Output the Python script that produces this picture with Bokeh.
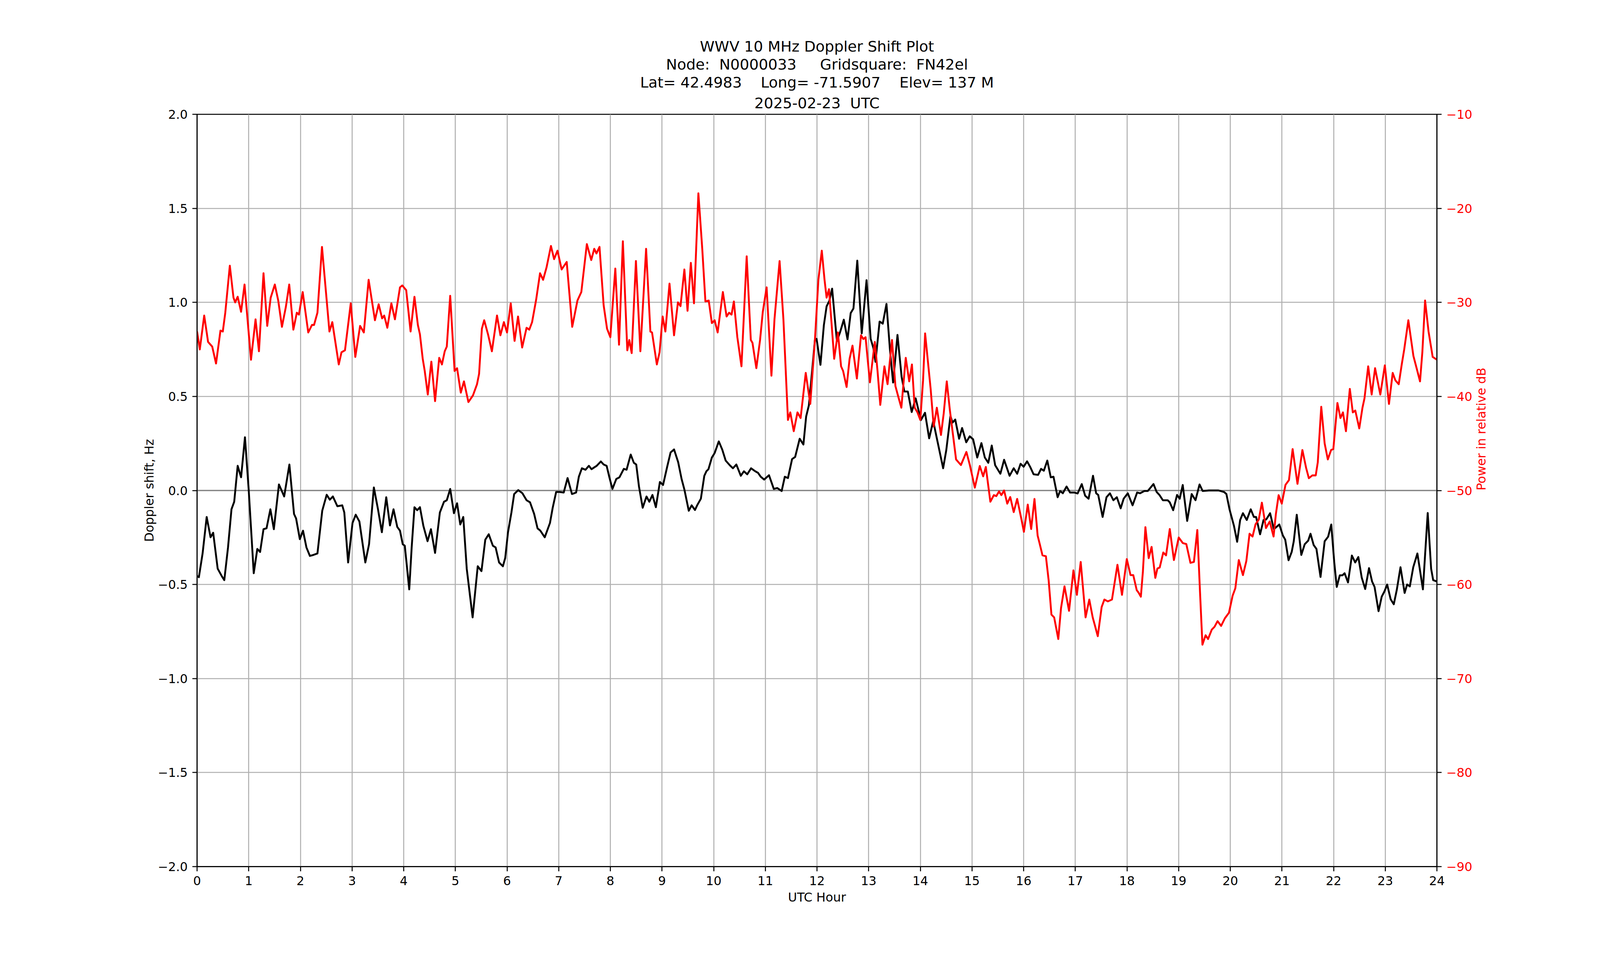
import math
from bokeh.plotting import figure
from bokeh.models import (Range1d, LinearAxis, FixedTicker, CustomJSTickFormatter,
                          Span, Title)
from bokeh.embed import file_html
from bokeh.resources import INLINE

# ---------------- data ----------------
doppler_hours = [
    0.0, 0.035, 0.107, 0.186, 0.261, 0.312, 0.399, 0.479, 0.527, 0.599, 0.666, 0.719, 0.786, 0.852, 0.927,
    0.999, 1.097, 1.166, 1.220, 1.286, 1.345, 1.419, 1.486, 1.585, 1.686, 1.787, 1.877, 1.917, 1.989, 2.051,
    2.117, 2.184, 2.250, 2.330, 2.423, 2.509, 2.570, 2.629, 2.716, 2.810, 2.850, 2.924, 3.009, 3.071, 3.142,
    3.257, 3.329, 3.422, 3.502, 3.577, 3.662, 3.734, 3.803, 3.875, 3.928, 3.981, 4.021, 4.048, 4.107, 4.154,
    4.208, 4.261, 4.314, 4.381, 4.461, 4.527, 4.607, 4.700, 4.780, 4.834, 4.900, 4.972, 5.033, 5.095, 5.153,
    5.220, 5.334, 5.433, 5.505, 5.579, 5.646, 5.726, 5.779, 5.846, 5.920, 5.965, 6.019, 6.085, 6.138, 6.218,
    6.298, 6.378, 6.445, 6.525, 6.591, 6.645, 6.730, 6.831, 6.884, 6.951, 7.017, 7.097, 7.172, 7.257, 7.337,
    7.390, 7.449, 7.518, 7.585, 7.635, 7.736, 7.816, 7.870, 7.928, 7.981, 8.040, 8.115, 8.176, 8.261, 8.314,
    8.394, 8.455, 8.501, 8.554, 8.626, 8.700, 8.754, 8.815, 8.881, 8.959, 9.020, 9.100, 9.166, 9.233, 9.313,
    9.379, 9.433, 9.518, 9.574, 9.638, 9.686, 9.752, 9.819, 9.859, 9.899, 9.965, 10.019, 10.099, 10.165, 10.232,
    10.312, 10.373, 10.439, 10.525, 10.586, 10.650, 10.724, 10.804, 10.858, 10.911, 10.977, 11.071, 11.164, 11.230, 11.316,
    11.377, 11.438, 11.518, 11.577, 11.665, 11.737, 11.790, 11.843, 11.900, 11.960, 11.992, 12.067, 12.133, 12.186, 12.239,
    12.293, 12.346, 12.386, 12.452, 12.519, 12.591, 12.652, 12.706, 12.780, 12.866, 12.959, 13.039, 13.092, 13.132, 13.212,
    13.273, 13.345, 13.412, 13.473, 13.558, 13.638, 13.692, 13.758, 13.833, 13.910, 14.011, 14.091, 14.171, 14.250, 14.330,
    14.442, 14.503, 14.583, 14.623, 14.676, 14.751, 14.809, 14.889, 14.956, 15.022, 15.102, 15.183, 15.249, 15.316, 15.383,
    15.449, 15.550, 15.622, 15.728, 15.808, 15.875, 15.941, 16.000, 16.067, 16.125, 16.192, 16.280, 16.338, 16.391, 16.458,
    16.525, 16.578, 16.658, 16.706, 16.759, 16.831, 16.898, 16.978, 17.045, 17.125, 17.191, 17.257, 17.343, 17.404, 17.444,
    17.529, 17.604, 17.670, 17.737, 17.804, 17.878, 17.936, 18.016, 18.109, 18.197, 18.256, 18.336, 18.402, 18.514, 18.575,
    18.629, 18.695, 18.788, 18.828, 18.895, 18.970, 19.021, 19.080, 19.166, 19.253, 19.327, 19.405, 19.466, 19.586, 19.773,
    19.879, 19.925, 19.985, 20.072, 20.133, 20.191, 20.245, 20.319, 20.396, 20.457, 20.500, 20.577, 20.644, 20.697, 20.771,
    20.843, 20.949, 21.016, 21.064, 21.128, 21.189, 21.229, 21.287, 21.375, 21.441, 21.508, 21.553, 21.614, 21.668, 21.747,
    21.827, 21.894, 21.955, 22.013, 22.061, 22.120, 22.173, 22.213, 22.279, 22.354, 22.418, 22.479, 22.545, 22.612, 22.686,
    22.745, 22.793, 22.870, 22.931, 22.984, 23.037, 23.104, 23.165, 23.223, 23.295, 23.375, 23.423, 23.476, 23.542, 23.622,
    23.729, 23.822, 23.888, 23.928, 24.0,
]
doppler_hz = [
    -0.455, -0.461, -0.335, -0.141, -0.249, -0.225, -0.416, -0.456, -0.477, -0.303, -0.100, -0.060, 0.131, 0.070, 0.283,
    0.005, -0.440, -0.311, -0.327, -0.206, -0.201, -0.100, -0.206, 0.032, -0.032, 0.138, -0.125, -0.149, -0.259, -0.214,
    -0.303, -0.348, -0.343, -0.335, -0.108, -0.023, -0.049, -0.032, -0.084, -0.079, -0.117, -0.383, -0.173, -0.129, -0.165,
    -0.383, -0.286, 0.016, -0.100, -0.222, -0.036, -0.186, -0.100, -0.194, -0.214, -0.286, -0.294, -0.367, -0.526, -0.303,
    -0.089, -0.105, -0.089, -0.189, -0.270, -0.206, -0.332, -0.117, -0.060, -0.052, 0.008, -0.121, -0.068, -0.181, -0.141,
    -0.416, -0.675, -0.403, -0.429, -0.262, -0.233, -0.294, -0.303, -0.383, -0.403, -0.359, -0.222, -0.117, -0.019, 0.002,
    -0.015, -0.052, -0.063, -0.125, -0.202, -0.214, -0.249, -0.173, -0.092, -0.008, -0.008, -0.011, 0.066, -0.019, -0.011,
    0.073, 0.118, 0.110, 0.131, 0.113, 0.131, 0.154, 0.138, 0.131, 0.070, 0.008, 0.061, 0.070, 0.115, 0.110,
    0.191, 0.147, 0.138, 0.021, -0.092, -0.032, -0.060, -0.024, -0.089, 0.045, 0.029, 0.126, 0.202, 0.218, 0.150,
    0.061, 0.005, -0.108, -0.079, -0.104, -0.076, -0.044, 0.078, 0.102, 0.113, 0.175, 0.199, 0.261, 0.218, 0.159,
    0.134, 0.118, 0.138, 0.078, 0.102, 0.086, 0.118, 0.102, 0.094, 0.073, 0.058, 0.081, 0.008, 0.013, -0.003,
    0.073, 0.066, 0.167, 0.178, 0.275, 0.244, 0.393, 0.453, 0.620, 0.801, 0.806, 0.668, 0.879, 0.979, 1.008,
    1.073, 0.911, 0.794, 0.846, 0.908, 0.803, 0.943, 0.968, 1.222, 0.835, 1.118, 0.806, 0.757, 0.684, 0.898,
    0.887, 0.992, 0.749, 0.574, 0.827, 0.604, 0.526, 0.526, 0.417, 0.490, 0.374, 0.413, 0.277, 0.369, 0.264,
    0.118, 0.215, 0.396, 0.361, 0.377, 0.275, 0.332, 0.256, 0.288, 0.272, 0.175, 0.252, 0.175, 0.147, 0.239,
    0.134, 0.089, 0.163, 0.078, 0.118, 0.089, 0.142, 0.126, 0.155, 0.126, 0.086, 0.083, 0.115, 0.105, 0.159,
    0.070, 0.073, -0.036, -0.003, -0.015, 0.021, -0.011, -0.011, -0.016, 0.034, -0.028, -0.044, 0.078, -0.015, -0.024,
    -0.141, -0.036, -0.015, -0.052, -0.036, -0.095, -0.044, -0.015, -0.079, -0.011, -0.015, -0.003, -0.003, 0.034, -0.008,
    -0.024, -0.052, -0.052, -0.063, -0.105, -0.024, -0.044, 0.029, -0.162, -0.019, -0.052, 0.032, -0.003, 0.0, 0.0,
    -0.008, -0.019, -0.100, -0.189, -0.273, -0.157, -0.121, -0.157, -0.100, -0.141, -0.141, -0.233, -0.157, -0.154, -0.121,
    -0.206, -0.181, -0.238, -0.262, -0.371, -0.327, -0.270, -0.129, -0.343, -0.286, -0.267, -0.230, -0.290, -0.311, -0.460,
    -0.270, -0.246, -0.181, -0.383, -0.513, -0.451, -0.451, -0.440, -0.489, -0.346, -0.383, -0.354, -0.464, -0.524, -0.413,
    -0.484, -0.513, -0.642, -0.565, -0.537, -0.500, -0.578, -0.605, -0.529, -0.408, -0.545, -0.500, -0.510, -0.408, -0.335,
    -0.526, -0.120, -0.416, -0.477, -0.484,
]

power_hours = [
    0.0, 0.053, 0.138, 0.213, 0.293, 0.367, 0.453, 0.498, 0.546, 0.634, 0.705, 0.738, 0.786, 0.852, 0.919,
    1.044, 1.132, 1.198, 1.286, 1.358, 1.425, 1.505, 1.571, 1.643, 1.718, 1.784, 1.864, 1.931, 1.971, 2.045,
    2.152, 2.224, 2.264, 2.330, 2.418, 2.562, 2.618, 2.743, 2.796, 2.863, 2.975, 3.063, 3.156, 3.228, 3.321,
    3.443, 3.515, 3.582, 3.622, 3.683, 3.761, 3.830, 3.928, 3.973, 4.048, 4.133, 4.208, 4.274, 4.314, 4.368,
    4.407, 4.466, 4.535, 4.607, 4.687, 4.740, 4.794, 4.834, 4.900, 4.985, 5.033, 5.105, 5.166, 5.252, 5.340,
    5.419, 5.459, 5.513, 5.558, 5.632, 5.707, 5.806, 5.872, 5.939, 6.000, 6.072, 6.146, 6.213, 6.293, 6.378,
    6.431, 6.485, 6.564, 6.639, 6.698, 6.764, 6.850, 6.911, 6.977, 7.057, 7.155, 7.262, 7.363, 7.438, 7.545,
    7.630, 7.688, 7.731, 7.790, 7.870, 7.936, 8.000, 8.096, 8.168, 8.242, 8.328, 8.367, 8.413, 8.495, 8.581,
    8.692, 8.775, 8.807, 8.900, 8.953, 9.012, 9.065, 9.145, 9.233, 9.308, 9.358, 9.433, 9.494, 9.558, 9.619,
    9.704, 9.779, 9.840, 9.904, 9.965, 10.019, 10.077, 10.178, 10.250, 10.298, 10.346, 10.391, 10.458, 10.538, 10.639,
    10.719, 10.751, 10.826, 10.898, 10.951, 11.025, 11.118, 11.177, 11.276, 11.350, 11.438, 11.483, 11.550, 11.622, 11.683,
    11.782, 11.870, 11.960, 12.027, 12.093, 12.146, 12.186, 12.232, 12.280, 12.333, 12.405, 12.466, 12.506, 12.573, 12.631,
    12.687, 12.772, 12.852, 12.898, 12.940, 12.985, 13.025, 13.119, 13.172, 13.225, 13.305, 13.366, 13.452, 13.518, 13.572,
    13.633, 13.718, 13.785, 13.838, 13.891, 13.945, 14.000, 14.053, 14.093, 14.160, 14.200, 14.259, 14.320, 14.400, 14.453,
    14.512, 14.573, 14.626, 14.692, 14.786, 14.892, 14.959, 15.055, 15.151, 15.217, 15.268, 15.356, 15.423, 15.471, 15.524,
    15.569, 15.622, 15.683, 15.741, 15.808, 15.875, 15.955, 16.005, 16.080, 16.146, 16.210, 16.271, 16.312, 16.365, 16.431,
    16.485, 16.538, 16.591, 16.671, 16.724, 16.791, 16.879, 16.964, 17.031, 17.105, 17.199, 17.271, 17.337, 17.377, 17.435,
    17.510, 17.563, 17.630, 17.710, 17.816, 17.904, 17.997, 18.069, 18.122, 18.189, 18.229, 18.269, 18.309, 18.357, 18.421,
    18.477, 18.549, 18.589, 18.634, 18.703, 18.757, 18.829, 18.909, 19.002, 19.082, 19.149, 19.229, 19.296, 19.362, 19.415,
    19.461, 19.522, 19.570, 19.642, 19.695, 19.754, 19.823, 19.895, 19.975, 20.045, 20.098, 20.165, 20.245, 20.311, 20.373,
    20.431, 20.489, 20.551, 20.612, 20.691, 20.763, 20.838, 20.883, 20.936, 20.997, 21.069, 21.136, 21.207, 21.301, 21.396,
    21.468, 21.521, 21.588, 21.654, 21.694, 21.761, 21.827, 21.888, 21.952, 21.995, 22.074, 22.133, 22.181, 22.239, 22.314,
    22.372, 22.420, 22.497, 22.559, 22.598, 22.670, 22.737, 22.803, 22.904, 22.992, 23.072, 23.144, 23.197, 23.261, 23.319,
    23.367, 23.447, 23.545, 23.612, 23.673, 23.718, 23.771, 23.838, 23.918, 24.0,
]
power_db = [
    -33.1, -35.0, -31.4, -34.2, -34.7, -36.5, -33.0, -33.1, -31.1, -26.1, -29.5, -30.0, -29.4, -31.0, -28.1,
    -36.1, -31.8, -35.2, -26.9, -32.5, -29.5, -28.1, -29.8, -32.6, -30.5, -28.1, -32.9, -31.1, -31.3, -28.9,
    -33.2, -32.4, -32.4, -31.1, -24.1, -33.1, -32.1, -36.6, -35.3, -35.1, -30.1, -35.8, -32.5, -33.2, -27.6,
    -31.9, -30.2, -31.7, -31.4, -32.7, -30.1, -31.8, -28.4, -28.2, -28.7, -33.1, -29.4, -32.4, -33.4, -36.0,
    -37.3, -39.8, -36.3, -40.5, -35.9, -36.6, -35.2, -34.7, -29.3, -37.3, -37.0, -39.6, -38.4, -40.6, -39.9,
    -38.7, -37.6, -32.8, -31.9, -33.4, -35.2, -31.4, -33.5, -32.1, -33.2, -30.1, -34.1, -31.5, -34.8, -32.7,
    -32.9, -32.1, -29.7, -26.9, -27.6, -26.3, -24.0, -25.4, -24.5, -26.5, -25.7, -32.6, -29.8, -28.9, -23.8,
    -25.5, -24.3, -24.8, -24.1, -30.3, -32.8, -33.7, -26.4, -34.5, -23.5, -35.1, -34.0, -35.4, -25.6, -35.2,
    -24.3, -33.1, -33.2, -36.6, -35.3, -31.5, -33.1, -28.0, -33.5, -30.0, -30.4, -26.5, -30.9, -25.8, -30.1,
    -18.4, -24.3, -29.9, -29.8, -32.2, -31.9, -33.2, -28.9, -31.5, -31.1, -31.3, -29.9, -33.7, -36.8, -25.1,
    -34.0, -34.3, -37.0, -34.0, -31.0, -28.4, -37.8, -31.8, -25.6, -31.8, -42.5, -41.7, -43.7, -41.7, -42.3,
    -37.5, -40.8, -34.0, -27.6, -24.5, -27.6, -29.5, -28.6, -32.1, -36.0, -33.2, -36.8, -37.3, -39.0, -36.0,
    -34.6, -38.1, -33.5, -33.9, -33.7, -36.3, -38.5, -34.2, -37.3, -40.9, -36.8, -38.7, -34.0, -38.9, -40.0,
    -41.2, -35.9, -38.4, -36.6, -41.2, -41.7, -42.5, -38.3, -33.3, -37.0, -39.2, -43.2, -41.2, -44.1, -41.8,
    -38.4, -41.5, -43.8, -46.7, -47.3, -45.9, -47.3, -49.7, -47.4, -48.5, -47.5, -51.2, -50.5, -50.6, -50.1,
    -50.5, -50.0, -51.4, -50.7, -52.3, -50.9, -53.0, -54.4, -51.5, -54.1, -50.9, -54.8, -55.7, -56.9, -57.0,
    -59.6, -63.2, -63.5, -65.8, -62.5, -60.2, -62.8, -58.5, -61.1, -57.6, -63.5, -61.6, -63.5, -64.3, -65.5,
    -62.4, -61.6, -61.8, -61.6, -57.9, -61.1, -57.3, -59.0, -59.0, -60.6, -60.9, -61.3, -58.6, -53.9, -57.2,
    -56.0, -59.3, -58.3, -58.2, -56.6, -56.9, -54.1, -57.4, -55.0, -55.6, -55.7, -57.7, -57.6, -54.2, -60.9,
    -66.4, -65.4, -65.8, -64.8, -64.5, -63.9, -64.4, -63.6, -63.0, -61.2, -60.4, -57.4, -59.0, -57.5, -54.6,
    -54.9, -53.6, -53.1, -51.3, -54.0, -53.3, -54.9, -52.5, -50.5, -51.4, -49.4, -48.9, -45.6, -49.3, -45.7,
    -47.6, -48.7, -48.4, -48.4, -47.0, -41.1, -45.0, -46.7, -45.7, -45.6, -40.7, -42.3, -41.7, -43.7, -39.2,
    -41.7, -41.5, -43.4, -41.2, -40.2, -36.8, -39.8, -37.0, -39.8, -36.7, -40.8, -37.5, -38.3, -38.7, -36.6,
    -35.0, -31.9, -35.7, -37.1, -38.4, -35.3, -29.8, -33.1, -35.8, -36.1,
]

hour_ticks = list(range(0, 25))
hz_ticks = [-2.0, -1.5, -1.0, -0.5, 0.0, 0.5, 1.0, 1.5, 2.0]
db_ticks = [-90, -80, -70, -60, -50, -40, -30, -20, -10]

NB = "\u00a0"
title_lines = [
    "WWV 10 MHz Doppler Shift Plot",
    "Node: " + NB + "N0000033 " + NB * 4 + "Gridsquare: " + NB + "FN42el",
    "Lat= 42.4983 " + NB * 3 + "Long= -71.5907 " + NB * 3 + "Elev= 137 M",
    "2025-02-23 " + NB + "UTC",
]
x_label = "UTC Hour"
left_label = "Doppler shift, Hz"
right_label = "Power in relative dB"

# ---------------- styling ----------------
FONT = "DejaVu Sans"
TICK_FS = "31.5px"
TITLE_FS = "38px"
LW_AX = 2.6
LW_DATA = 4.8

# the browser viewport is 4096 css px wide: keep the reference's relative layout
W, H = 4080, 2484
FL, FR, FT, FB = 504, 3678, 292, 2217  # frame edges in figure coords

p = figure(width=W, height=H, output_backend="svg", toolbar_location=None,
           title=None, x_range=Range1d(0, 24), y_range=Range1d(-2, 2),
           min_border_left=FL, min_border_right=W - FR,
           min_border_top=FT, min_border_bottom=H - FB,
           background_fill_color="white", border_fill_color="white")

p.outline_line_color = "black"
p.outline_line_width = LW_AX

p.extra_y_ranges = {"db": Range1d(-90, -10)}

fmt_hz = CustomJSTickFormatter(code="return tick.toFixed(1).replace('-', '\\u2212');")
fmt_db = CustomJSTickFormatter(code="return tick.toFixed(0).replace('-', '\\u2212');")


def style_axis(ax, label_color="black"):
    ax.axis_line_color = "black"
    ax.axis_line_width = LW_AX
    ax.major_tick_line_color = "black"
    ax.major_tick_line_width = LW_AX
    ax.major_tick_out = 12
    ax.major_tick_in = 0
    ax.minor_tick_line_color = None
    ax.major_label_text_font = FONT
    ax.major_label_text_font_size = TICK_FS
    ax.major_label_text_color = label_color
    ax.major_label_standoff = 12
    ax.axis_label_text_font = FONT
    ax.axis_label_text_font_size = TICK_FS
    ax.axis_label_text_font_style = "normal"
    ax.axis_label_text_color = label_color


xa = p.xaxis[0]
xa.ticker = FixedTicker(ticks=hour_ticks)
xa.axis_label = x_label
style_axis(xa)
xa.axis_label_standoff = 10

ya = p.yaxis[0]
ya.ticker = FixedTicker(ticks=hz_ticks)
ya.formatter = fmt_hz
ya.axis_label = left_label
style_axis(ya)
ya.axis_label_standoff = 1

ra = LinearAxis(y_range_name="db", ticker=FixedTicker(ticks=db_ticks), formatter=fmt_db,
                axis_label=right_label)
style_axis(ra, label_color="red")
ra.axis_label_standoff = 20
try:
    ra.axis_label_orientation = math.pi / 2
except Exception:
    pass
p.add_layout(ra, "right")

p.xgrid.ticker = FixedTicker(ticks=hour_ticks)
p.ygrid.ticker = FixedTicker(ticks=hz_ticks)
for g in (p.xgrid[0], p.ygrid[0]):
    g.grid_line_color = "#b0b0b0"
    g.grid_line_width = LW_AX

zero = Span(location=0, dimension="width", line_color="gray", line_width=3.0, level="underlay")
p.add_layout(zero)

p.line(doppler_hours, doppler_hz, line_color="black", line_width=LW_DATA, line_join="round")
p.line(power_hours, power_db, line_color="red", line_width=LW_DATA, line_join="round",
       y_range_name="db")

# stacked title lines (first added sits closest to the plot)
for i, txt in enumerate(reversed(title_lines)):
    t = Title(text=txt, align="center", text_font=FONT, text_font_size=TITLE_FS,
              text_font_style="normal", text_color="black",
              standoff=(14 if i == 0 else 0))
    p.add_layout(t, "above")

open("out.html", "w").write(file_html(p, INLINE))
